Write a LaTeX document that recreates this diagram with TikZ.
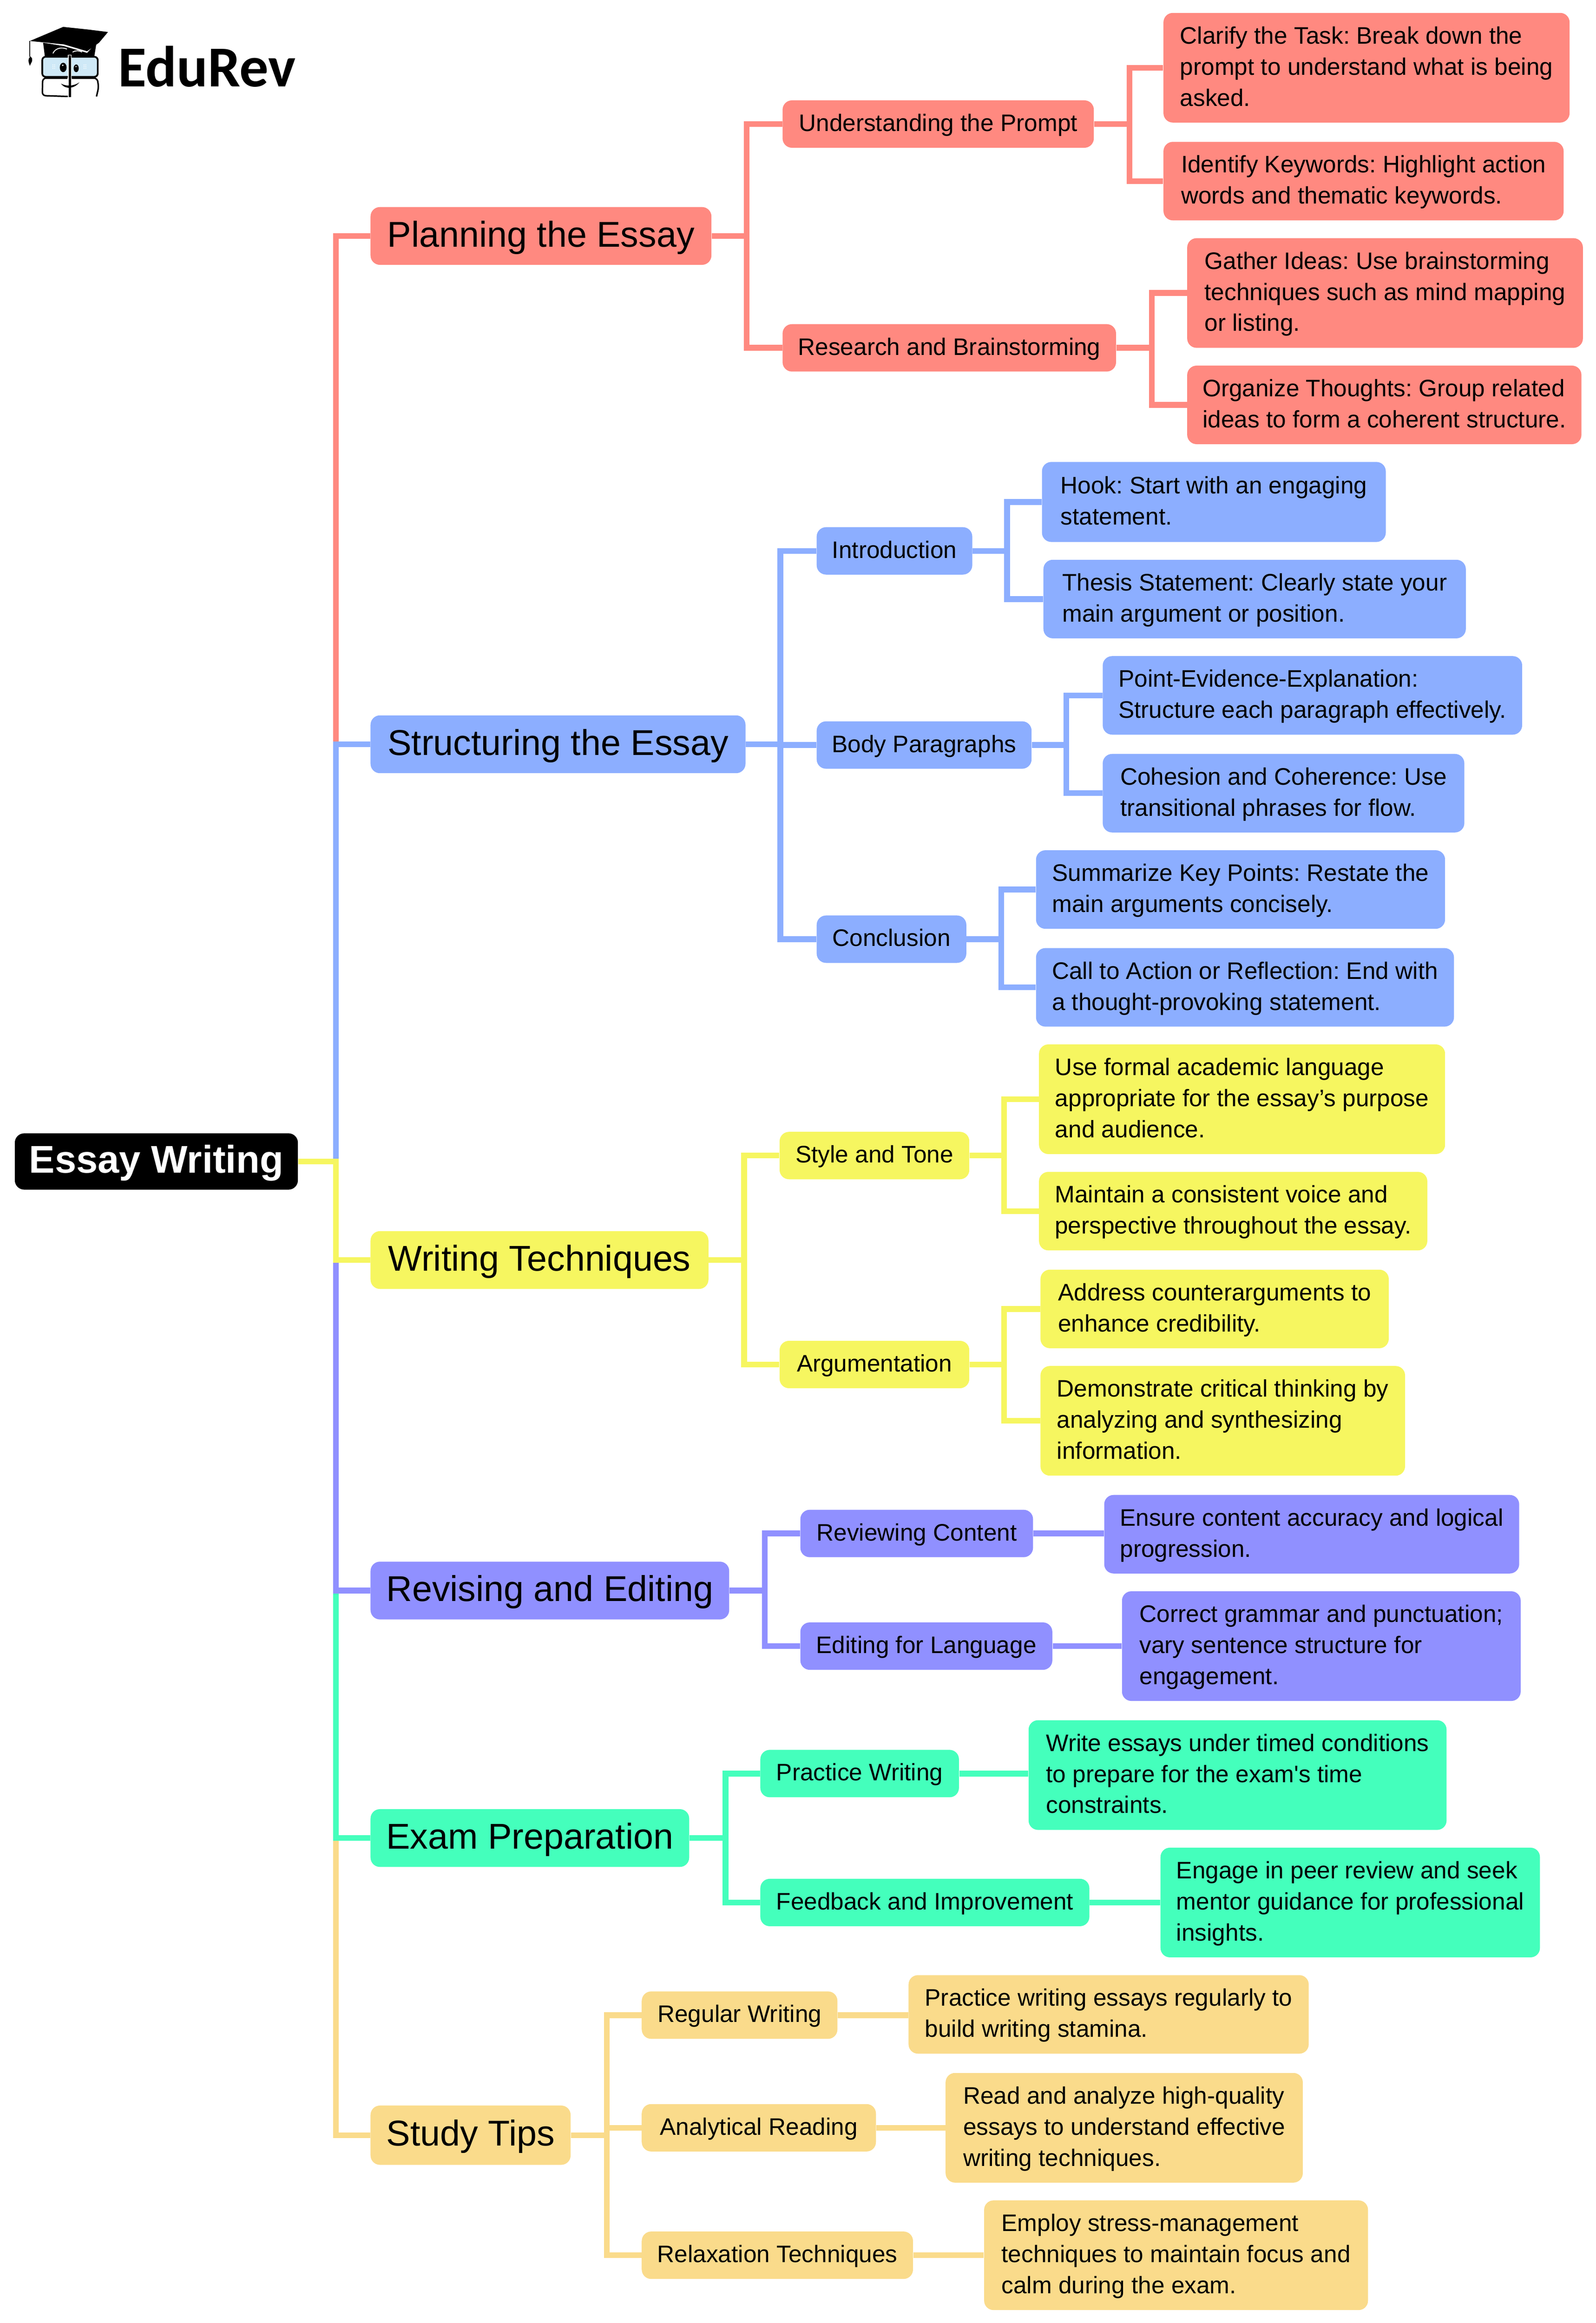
\documentclass[tikz,border=0pt]{standalone}
\usepackage{fontspec}
\setmainfont[Ligatures=TeXOff]{Liberation Sans}
\newfontfamily\logofont{Carlito}
\frenchspacing
\definecolor{cred}{HTML}{FF8980}
\definecolor{cblue}{HTML}{8CAEFF}
\definecolor{cyellow}{HTML}{F6F660}
\definecolor{cviolet}{HTML}{9090FF}
\definecolor{cgreen}{HTML}{44FFBC}
\definecolor{corange}{HTML}{FADB8B}
\definecolor{glass}{HTML}{CFE9F7}
\newcommand{\vst}{\rule[-0.25em]{0pt}{1.1em}}
\newcommand{\nb}[7]{\node[#6,minimum width={(#3-#2)*0.0347cm},minimum height={(#5-#4)*0.0347cm}] (#1) at ({(#2+#3)/2},{(#4+#5)/2-0.3}) {\vst #7\vst};}
\newcommand{\cn}[4]{\draw[edge,#1] (#2.east) -- (#2.east -| #3) |- (#4.west);}
\newcommand{\cs}[3]{\draw[edge,#1] (#2.east) -- (#2.east -| #3.west);}
\tikzset{
 base/.style={inner sep=0pt,rounded corners=0.22cm,align=left,text=black},
 lone/.style={base,font=\fontsize{23.9}{28}\selectfont},
 lsmall/.style={base,font=\fontsize{15.9}{20.7}\selectfont},
 root/.style={base,fill=black,text=white,font=\fontsize{25.7}{30}\selectfont\bfseries},
 edge/.style={line width=0.135cm,miter limit=10},
 fr/.style={fill=cred}, fb/.style={fill=cblue}, fy/.style={fill=cyellow},
 fv/.style={fill=cviolet}, fg/.style={fill=cgreen}, fo/.style={fill=corange},
}
\begin{document}
\begin{tikzpicture}[x=0.0347cm,y=-0.0347cm]
\useasboundingbox (0,0) rectangle (1076.66,1567.44);
% logo
\begin{scope}[x=0.01cm,y=-0.01cm]
\fill (70,96) -- (148,63) -- (205,69) -- (253,75) -- (232,100) -- (204,120) -- (150,104) -- cycle;
\fill (101,100) -- (150,108) -- (204,124) -- (226,100) -- (221,132) -- (105,132) -- cycle;
\draw[line width=0.02cm] (70,96) -- (70,133);
\fill (71,132) .. controls (66,138) and (65,142) .. (70,154) .. controls (74,144) and (80,140) .. (71,132) -- cycle;
\draw[white,line width=0.02cm] (124,125) .. controls (130,112) and (145,110) .. (157,115);
\draw[white,line width=0.02cm] (170,122) .. controls (176,118) and (186,118) .. (192,122);
\draw[line width=0.04cm,fill=glass,rounded corners=0.08cm] (99,133) rectangle (229,180);
\draw[line width=0.035cm,rounded corners=0.08cm] (158,183) -- (100,183) -- (99,224) -- (160,226);
\draw[line width=0.035cm,rounded corners=0.08cm] (168,183) -- (228,183) -- (231,205) -- (226,226);
\fill[white] (159,128) rectangle (168,230);
\fill (161,130) rectangle (167,228);
\fill (148,158) ellipse [x radius=0.08cm,y radius=0.11cm];
\fill (178.5,160) ellipse [x radius=0.06cm,y radius=0.09cm];
\fill[white] (147,153) circle (0.02cm) (178,156) circle (0.015cm);
\fill (143,196) .. controls (155,202) and (170,203) .. (186,193) .. controls (176,206) and (155,212) .. (143,196) -- cycle;
\foreach \a in {124,128,197,201} \foreach \b in {152,156,160} \fill[white] (\a,\b) circle (0.012cm);
\end{scope}
\node[inner sep=0pt,anchor=base west,font=\fontsize{38.6}{44}\selectfont\logofont\bfseries] (logo) at (79.5,58.5) {EduRev};
% nodes
\nb{r}{10}{201}{765}{803}{root}{Essay Writing}
\nb{a}{250}{480}{140}{179}{lone,fr}{Planning the Essay}
\nb{b}{250}{503}{483}{522}{lone,fb}{Structuring the Essay}
\nb{c}{250}{478}{831}{870}{lone,fy}{Writing Techniques}
\nb{d}{250}{492}{1054}{1093}{lone,fv}{Revising and Editing}
\nb{e}{250}{465}{1221}{1260}{lone,fg}{Exam Preparation}
\nb{f}{250}{385}{1421}{1461}{lone,fo}{Study Tips}
\nb{a1}{528}{738}{68}{100}{lsmall,fr}{Understanding the Prompt}
\nb{a2}{528}{753}{219}{251}{lsmall,fr}{Research and Brainstorming}
\nb{b1}{551}{656}{356}{388}{lsmall,fb}{Introduction}
\nb{b2}{551}{696}{487}{519}{lsmall,fb}{Body Paragraphs}
\nb{b3}{551}{652}{618}{650}{lsmall,fb}{Conclusion}
\nb{c1}{526}{654}{764}{796}{lsmall,fy}{Style and Tone}
\nb{c2}{526}{654}{905}{937}{lsmall,fy}{Argumentation}
\nb{d1}{540}{697}{1019}{1051}{lsmall,fv}{Reviewing Content}
\nb{d2}{540}{710}{1095}{1127}{lsmall,fv}{Editing for Language}
\nb{e1}{513}{647}{1181}{1213}{lsmall,fg}{Practice Writing}
\nb{e2}{513}{735}{1268}{1300}{lsmall,fg}{Feedback and Improvement}
\nb{f1}{433}{565}{1344}{1376}{lsmall,fo}{Regular Writing}
\nb{f2}{433}{591}{1420}{1452}{lsmall,fo}{Analytical Reading}
\nb{f3}{433}{616}{1506}{1538}{lsmall,fo}{Relaxation Techniques}
\nb{a11}{785}{1059}{9}{83}{lsmall,fr}{Clarify the Task: Break down the\\prompt to understand what is being\\asked.}
\nb{a12}{785}{1055}{96}{149}{lsmall,fr}{Identify Keywords: Highlight action\\words and thematic keywords.}
\nb{a21}{801}{1068}{161}{235}{lsmall,fr}{Gather Ideas: Use brainstorming\\techniques such as mind mapping\\or listing.}
\nb{a22}{801}{1067}{247}{300}{lsmall,fr}{Organize Thoughts: Group related\\ideas to form a coherent structure.}
\nb{b11}{703}{935}{312}{366}{lsmall,fb}{Hook: Start with an engaging\\statement.}
\nb{b12}{704}{989}{378}{431}{lsmall,fb}{Thesis Statement: Clearly state your\\main argument or position.}
\nb{b21}{744}{1027}{443}{496}{lsmall,fb}{Point-Evidence-Explanation:\\Structure each paragraph effectively.}
\nb{b22}{744}{988}{509}{562}{lsmall,fb}{Cohesion and Coherence: Use\\transitional phrases for flow.}
\nb{b31}{699}{975}{574}{627}{lsmall,fb}{Summarize Key Points: Restate the\\main arguments concisely.}
\nb{b32}{699}{981}{640}{693}{lsmall,fb}{Call to Action or Reflection: End with\\a thought-provoking statement.}
\nb{c11}{701}{975}{705}{779}{lsmall,fy}{Use formal academic language\\appropriate for the essay’s purpose\\and audience.}
\nb{c12}{701}{963}{791}{844}{lsmall,fy}{Maintain a consistent voice and\\perspective throughout the essay.}
\nb{c21}{702}{937}{857}{910}{lsmall,fy}{Address counterarguments to\\enhance credibility.}
\nb{c22}{702}{948}{922}{996}{lsmall,fy}{Demonstrate critical thinking by\\analyzing and synthesizing\\information.}
\nb{d11}{745}{1025}{1009}{1062}{lsmall,fv}{Ensure content accuracy and logical\\progression.}
\nb{d21}{757}{1026}{1074}{1148}{lsmall,fv}{Correct grammar and punctuation;\\vary sentence structure for\\engagement.}
\nb{e11}{694}{976}{1161}{1235}{lsmall,fg}{Write essays under timed conditions\\to prepare for the exam's time\\constraints.}
\nb{e21}{783}{1039}{1247}{1321}{lsmall,fg}{Engage in peer review and seek\\mentor guidance for professional\\insights.}
\nb{f11}{613}{883}{1333}{1386}{lsmall,fo}{Practice writing essays regularly to\\build writing stamina.}
\nb{f21}{638}{879}{1399}{1473}{lsmall,fo}{Read and analyze high-quality\\essays to understand effective\\writing techniques.}
\nb{f31}{664}{923}{1485}{1559}{lsmall,fo}{Employ stress-management\\techniques to maintain focus and\\calm during the exam.}
% bus positions
\coordinate (bt) at (226.7,0);
\coordinate (ba) at (503.7,0); \coordinate (ba1) at (762,0); \coordinate (ba2) at (777.2,0);
\coordinate (bb) at (526.5,0); \coordinate (bb1) at (679.5,0); \coordinate (bb2) at (719.5,0); \coordinate (bb3) at (675.5,0);
\coordinate (bc) at (502,0); \coordinate (bc1) at (677.5,0); \coordinate (bc2) at (677.5,0);
\coordinate (bd) at (516,0); \coordinate (be) at (489.5,0); \coordinate (bf) at (409.5,0);
% connectors
\cn{cred}{r}{bt}{a}
\cn{cblue}{r}{bt}{b}
\cn{corange}{r}{bt}{f}
\cn{cgreen}{r}{bt}{e}
\cn{cviolet}{r}{bt}{d}
\cn{cyellow}{r}{bt}{c}
\cn{cred}{a}{ba}{a1} \cn{cred}{a}{ba}{a2}
\cn{cred}{a1}{ba1}{a11} \cn{cred}{a1}{ba1}{a12}
\cn{cred}{a2}{ba2}{a21} \cn{cred}{a2}{ba2}{a22}
\cn{cblue}{b}{bb}{b1} \cn{cblue}{b}{bb}{b2} \cn{cblue}{b}{bb}{b3}
\cn{cblue}{b1}{bb1}{b11} \cn{cblue}{b1}{bb1}{b12}
\cn{cblue}{b2}{bb2}{b21} \cn{cblue}{b2}{bb2}{b22}
\cn{cblue}{b3}{bb3}{b31} \cn{cblue}{b3}{bb3}{b32}
\cn{cyellow}{c}{bc}{c1} \cn{cyellow}{c}{bc}{c2}
\cn{cyellow}{c1}{bc1}{c11} \cn{cyellow}{c1}{bc1}{c12}
\cn{cyellow}{c2}{bc2}{c21} \cn{cyellow}{c2}{bc2}{c22}
\cn{cviolet}{d}{bd}{d1} \cn{cviolet}{d}{bd}{d2}
\cs{cviolet}{d1}{d11} \cs{cviolet}{d2}{d21}
\cn{cgreen}{e}{be}{e1} \cn{cgreen}{e}{be}{e2}
\cs{cgreen}{e1}{e11} \cs{cgreen}{e2}{e21}
\cn{corange}{f}{bf}{f1} \cn{corange}{f}{bf}{f2} \cn{corange}{f}{bf}{f3}
\cs{corange}{f1}{f11} \cs{corange}{f2}{f21} \cs{corange}{f3}{f31}
\end{tikzpicture}
\end{document}
